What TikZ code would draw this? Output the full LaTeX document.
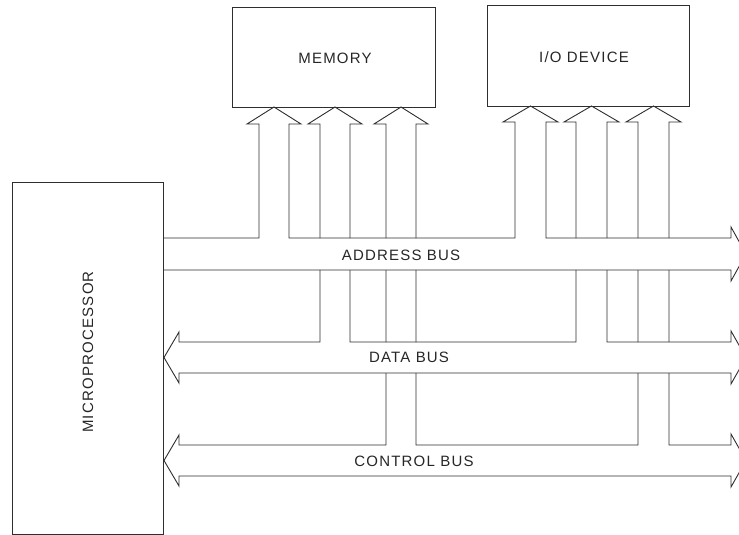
\documentclass[tikz,border=0pt]{standalone}
\usepackage{fontspec}
\setmainfont{Liberation Sans}
\newfontfamily\busfont[LetterSpace=8]{Liberation Sans}
\begin{document}
\begin{tikzpicture}[x=1pt,y=-1pt,
  ink/.style={draw=black!82, line width=0.9pt, line join=miter},
  box/.style={ink, rectangle, inner sep=0pt},
  lbl/.style={text=black!85, inner sep=0pt, font=\busfont\fontsize{15}{18}\selectfont}]
\useasboundingbox (0,0) rectangle (739,535);
% blocks
\node[box, minimum width=151pt, minimum height=352pt] (mp) at (87.5,358) {};
\node[lbl, rotate=90] (mptext) at (88,352) {MICROPROCESSOR};
\node[box, minimum width=203pt, minimum height=100pt] (mem) at (333.5,57) {};
\node[lbl] (memtext) at (335,58) {MEMORY};
\node[box, minimum width=202pt, minimum height=101pt] (io) at (588,55.5) {};
\node[lbl] (iotext) at (584,57) {I/O DEVICE};
% address bus with arrows A1 and A4
\draw[ink] (163,238) -- (259,238) -- (259,124) -- (247,124) -- (274,107) -- (301,124) -- (289,124) -- (289,238)
  -- (515,238) -- (515,122) -- (503,122) -- (530.5,106) -- (558,122) -- (546,122) -- (546,238)
  -- (731,238) -- (731,227) -- (746,254) -- (731,281) -- (731,270) -- (163,270);
% data bus with arrows A2 and A5
\draw[ink] (320,238) -- (320,124) -- (308,124) -- (335,107) -- (362,124) -- (350,124) -- (350,238)
  (576,238) -- (576,122) -- (564,122) -- (591.5,106) -- (619,122) -- (607,122) -- (607,238);
\draw[ink] (320,270) -- (320,342) -- (179,342) -- (179,332) -- (164,357.5) -- (179,383) -- (179,373)
  -- (731,373) -- (731,384) -- (746,357.5) -- (731,331) -- (731,342) -- (607,342) -- (607,270)
  (576,270) -- (576,342) -- (350,342) -- (350,270);
% control bus with arrows A3 and A6
\draw[ink] (386,342) -- (386,270)
  (386,238) -- (386,124) -- (374,124) -- (401,107) -- (428,124) -- (416,124) -- (416,238)
  (416,270) -- (416,342)
  (638,342) -- (638,270)
  (638,238) -- (638,122) -- (626,122) -- (653.5,106) -- (681,122) -- (669,122) -- (669,238)
  (669,270) -- (669,342);
\draw[ink] (386,373) -- (386,445) -- (179,445) -- (179,435) -- (164,460.5) -- (179,486) -- (179,476)
  -- (731,476) -- (731,487) -- (746,460.5) -- (731,434) -- (731,445) -- (669,445) -- (669,373)
  (638,373) -- (638,445) -- (416,445) -- (416,373);
% bus labels
\node[lbl] (abus) at (401,255) {ADDRESS BUS};
\node[lbl] (dbus) at (409,357.5) {DATA BUS};
\node[lbl] (cbus) at (414,461) {CONTROL BUS};
\end{tikzpicture}
\end{document}
